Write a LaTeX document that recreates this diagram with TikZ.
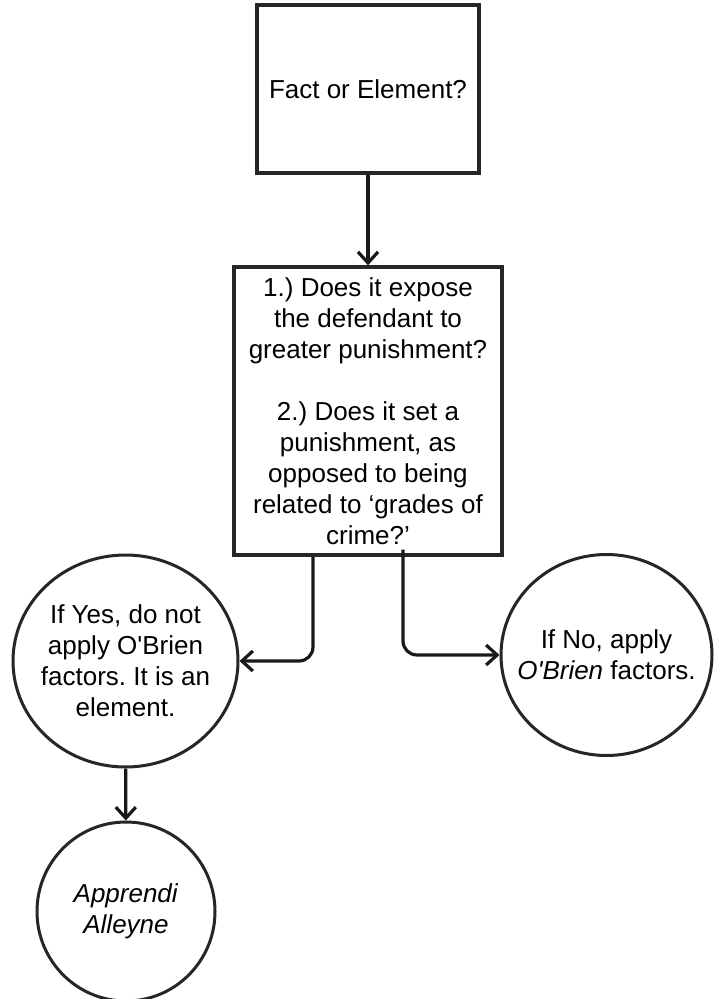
\documentclass[tikz,border=0pt]{standalone}
\usepackage{fontspec}
\setmainfont{Liberation Sans}
\usepackage{tikz}
\usetikzlibrary{shapes.geometric, arrows.meta, positioning}
\frenchspacing

\begin{document}
\begin{tikzpicture}[
    x=1pt, y=-1pt,
    >={Straight Barb[length=11pt, width=20pt]},
    stepbox/.style={draw=black!85, line width=3.4pt, rectangle, inner sep=2pt, align=center, font=\fontsize{26}{31}\selectfont},
    answer/.style={draw=black!85, line width=3pt, ellipse, inner xsep=-22pt, inner ysep=0pt, align=center, font=\fontsize{26}{31}\selectfont},
    arr/.style={->, line width=3.2pt, black!90, rounded corners=14pt},
]
\useasboundingbox (0,0) rectangle (715,999);

% ── Question ──
\node[stepbox, minimum width=222pt, minimum height=168pt] (fact) at (368,89) {Fact or Element?};

% ── Tests ──
\node[stepbox, minimum width=268pt, minimum height=288pt] (tests) at (368,411) {1.) Does it expose\\ the defendant to\\ greater punishment?\\[31pt] 2.) Does it set a\\ punishment, as\\ opposed to being\\ related to ‘grades of\\ crime?’};

% ── Answers ──
\node[answer, minimum width=225pt, minimum height=212pt] (yes) at (125.5,661) {If Yes, do not\\ apply O\textquotesingle Brien\\ factors. It is an\\ element.};
\node[answer, minimum width=211pt, minimum height=201pt] (no) at (606.5,655) {If No, apply\\ \textit{O\textquotesingle Brien} factors.};
\node[answer, minimum width=178pt, minimum height=179pt, below=52pt of yes, xshift=0.5pt] (cases) {\textit{Apprendi}\\ \textit{Alleyne}};

% ── Arrows ──
\draw[arr] (fact) -- (tests);
\draw[arr] ([xshift=-55pt]tests.south) |- (yes.east);
\draw[arr] ([xshift=35pt, yshift=7pt]tests.south) |- (no.west);
\draw[arr] (yes) -- (cases);

\end{tikzpicture}
\end{document}
